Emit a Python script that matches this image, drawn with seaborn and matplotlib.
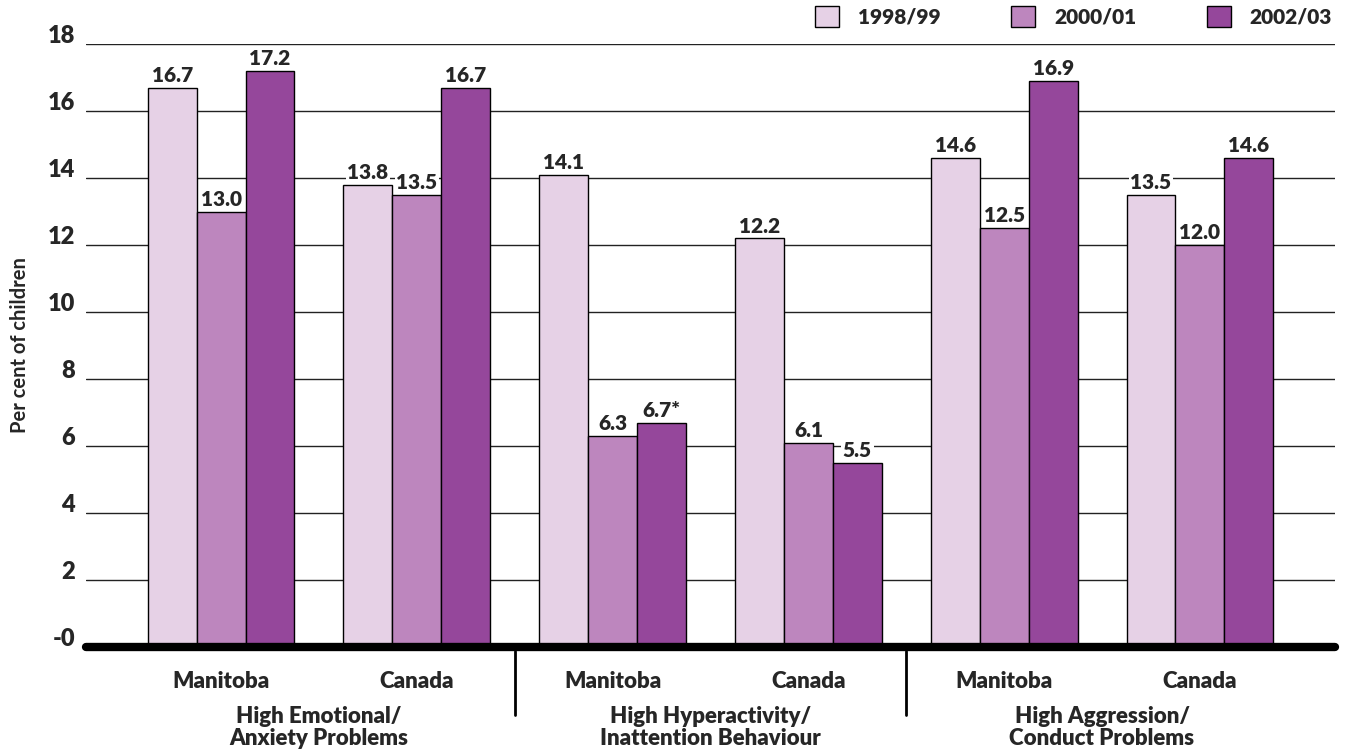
import matplotlib
matplotlib.use("Agg")
import matplotlib.pyplot as plt
import matplotlib.transforms as mtransforms
import seaborn as sns
import pandas as pd

problems = ["High Emotional/\nAnxiety Problems",
            "High Hyperactivity/\nInattention Behaviour",
            "High Aggression/\nConduct Problems"]
regions = ["Manitoba", "Canada"]
years = ["1998/99", "2000/01", "2002/03"]

# one value per region group: Emotional (MB, CA), Hyperactivity (MB, CA), Aggression (MB, CA)
pct_1998 = [16.7, 13.8, 14.1, 12.2, 14.6, 13.5]
pct_2000 = [13.0, 13.5, 6.3, 6.1, 12.5, 12.0]
pct_2002 = [17.2, 16.7, 6.7, 5.5, 16.9, 14.6]
notes_2002 = ["", "", "*", "", "", ""]

yticks = [0, 2, 4, 6, 8, 10, 12, 14, 16, 18]
ytick_labels = ["-0", "2", "4", "6", "8", "10", "12", "14", "16", "18"]
colors = ["#e6d1e6", "#bd86be", "#95479b"]

groups = [f"{p}|{r}" for p in problems for r in regions]
rows = []
for year, vals in zip(years, [pct_1998, pct_2000, pct_2002]):
    for g, v in zip(groups, vals):
        rows.append({"group": g, "year": year, "pct": v})
df = pd.DataFrame(rows)

sns.set_theme(style="white")
plt.rcParams["font.family"] = ["Lato", "DejaVu Sans"]
HEAVY = "heavy"

W, H = 1345, 754
fig = plt.figure(figsize=(W / 100, H / 100), dpi=100)
ax = fig.add_axes([86 / W, 1 - 647 / H, 1249 / W, 603 / H])

sns.barplot(data=df, x="group", y="pct", hue="year", order=groups, hue_order=years,
            palette=colors, saturation=1, width=0.75, edgecolor="black", linewidth=1,
            ax=ax, zorder=3)

ax.set_ylim(0, 18)
ax.set_xlim(-0.69, len(groups) - 1 + 0.69)
ax.set_axisbelow(True)
ax.yaxis.grid(True, color="#222222", linewidth=1)
ax.xaxis.grid(False)
for s in ax.spines.values():
    s.set_visible(False)
ax.axhline(0, color="black", linewidth=6, zorder=6, clip_on=False)

# bar value labels
notes = [[""] * len(groups), [""] * len(groups), notes_2002]
for cont, vals, nts in zip(ax.containers, [pct_1998, pct_2000, pct_2002], notes):
    for bar, v, n in zip(cont, vals, nts):
        ax.annotate(f"{v:.1f}{n}", (bar.get_x() + bar.get_width() / 2, bar.get_height()),
                    xytext=(0, 2), textcoords="offset points", ha="center", va="bottom",
                    fontsize=15, fontweight=HEAVY, zorder=4,
                    bbox=dict(boxstyle="square,pad=0.08", fc="white", ec="none"))

# y axis
ax.set_yticks(yticks)
ax.set_yticklabels(ytick_labels, fontsize=17, fontweight=HEAVY)
ax.tick_params(axis="y", length=0, pad=8)
shift = mtransforms.ScaledTranslation(0, 7 / 72, fig.dpi_scale_trans)
for lab in ax.get_yticklabels():
    lab.set_transform(lab.get_transform() + shift)
ax.set_ylabel("Per cent of children", fontsize=14.5, fontweight="bold")
ax.yaxis.set_label_coords(-0.045, 0.5)

# x axis: region names, then problem names
ax.set_xticks(range(len(groups)))
ax.set_xticklabels([g.split("|")[1] for g in groups], fontsize=16, fontweight=HEAVY)
ax.tick_params(axis="x", length=0, pad=17)
ax.set_xlabel("")
trans = ax.get_xaxis_transform()
for i, p in enumerate(problems):
    ax.text(2 * i + 0.5, -0.134, p, transform=trans, ha="center", va="center",
            fontsize=16, fontweight=HEAVY, linespacing=1.05)
for xs in [1.5, 3.5]:
    ax.plot([xs, xs], [-0.007, -0.113], transform=trans, color="black",
            linewidth=2, clip_on=False)

# legend
handles, labels = ax.get_legend_handles_labels()
ax.legend(handles, labels, ncol=3, frameon=False, loc="upper right",
          bbox_to_anchor=(1332 / W, 1 - 6 / H), bbox_transform=fig.transFigure,
          borderaxespad=0, borderpad=0, prop={"weight": HEAVY, "size": 15},
          handlelength=1.15, handleheight=1.15, handletextpad=0.9, columnspacing=3.4)

fig.savefig("out.png", dpi=100)
